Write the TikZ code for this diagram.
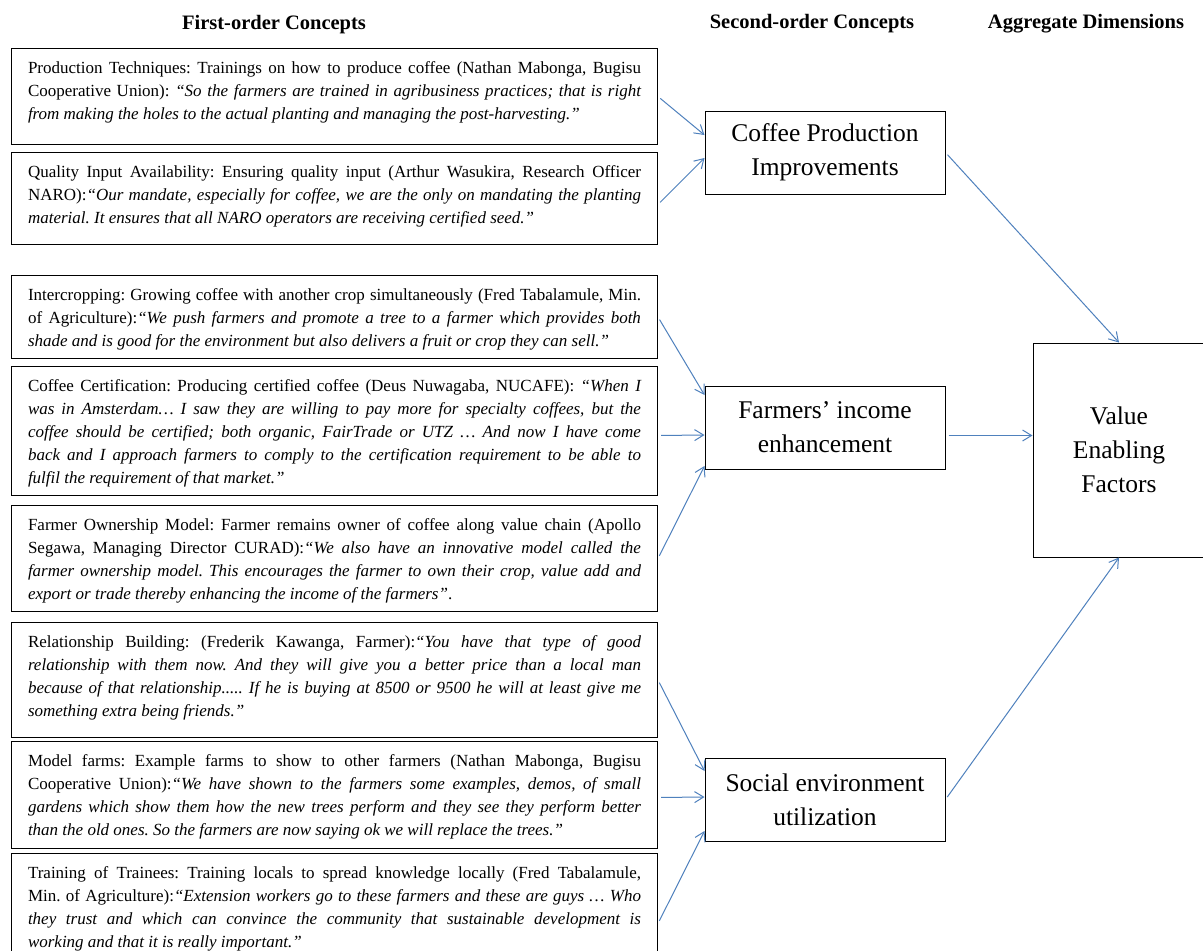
\documentclass[tikz,border=0pt]{standalone}
\usepackage{fontspec}
\setmainfont{Liberation Serif}
\usetikzlibrary{arrows.meta}
\definecolor{arrowblue}{RGB}{79,129,189}
\frenchspacing
\newcommand{\quotetext}[2]{\parbox[c][#1][t]{613pt}{\strut#2}}

\begin{document}
\begin{tikzpicture}[x=1pt, y=-1pt,
		quote/.style={draw=black, line width=1pt, anchor=north west, inner xsep=16.5pt, inner ysep=9pt, font=\fontsize{17}{23}\selectfont},
		concept/.style={draw=black, line width=1pt, minimum width=240pt, minimum height=83pt, align=center, font=\fontsize{25.5}{34}\selectfont},
		heading/.style={font=\fontsize{20.5}{24}\selectfont\bfseries},
		link/.style={draw=arrowblue, line width=1pt, shorten <=3pt, -{Straight Barb[length=9pt,width=11pt]}}]

			\useasboundingbox (0,0) rectangle (1203,951);
			\fill[white] (0,0) rectangle (1203,951);

			% Column headings
			\node[heading] (h1) at (274,25) {First-order Concepts};
			\node[heading] (h2) at (812,24) {Second-order Concepts};
			\node[heading] (h3) at (1086,24) {Aggregate Dimensions};

			% First-order concepts
			\node[quote] (b1) at (11,48) {\quotetext{78pt}{Production Techniques: Trainings on how to produce coffee (Nathan Mabonga, Bugisu\linebreak Cooperative Union): \textit{“So the farmers are trained in agribusiness practices; that is right\linebreak from making the holes to the actual planting and managing the post-harvesting.”}}};
			\node[quote] (b2) at (11,152) {\quotetext{74pt}{Quality Input Availability: Ensuring quality input (Arthur Wasukira, Research Officer\linebreak NARO):\textit{“Our mandate, especially for coffee, we are the only on mandating the planting\linebreak material. It ensures that all NARO operators are receiving certified seed.”}}};
			\node[quote] (b3) at (11,275) {\quotetext{65pt}{Intercropping: Growing coffee with another crop simultaneously (Fred Tabalamule, Min.\linebreak of Agriculture):\textit{“We push farmers and promote a tree to a farmer which provides both\linebreak shade and is good for the environment but also delivers a fruit or crop they can sell.”}}};
			\node[quote] (b4) at (11,366) {\quotetext{111pt}{Coffee Certification: Producing certified coffee (Deus Nuwagaba, NUCAFE): \textit{“When I\linebreak was in Amsterdam… I saw they are willing to pay more for specialty coffees, but the\linebreak coffee should be certified; both organic, FairTrade or UTZ … And now I have come\linebreak back and I approach farmers to comply to the certification requirement to be able to\linebreak fulfil the requirement of that market.”}}};
			\node[quote] (b5) at (11,505) {\quotetext{88pt}{Farmer Ownership Model: Farmer remains owner of coffee along value chain (Apollo\linebreak Segawa, Managing Director CURAD):\textit{“We also have an innovative model called the\linebreak farmer ownership model. This encourages the farmer to own their crop, value add and\linebreak export or trade thereby enhancing the income of the farmers”}.}};
			\node[quote] (b6) at (11,622) {\quotetext{97pt}{Relationship Building: (Frederik Kawanga, Farmer):\textit{“You have that type of good\linebreak relationship with them now. And they will give you a better price than a local man\linebreak because of that relationship..... If he is buying at 8500 or 9500 he will at least give me\linebreak something extra being friends.”}}};
			\node[quote] (b7) at (11,741) {\quotetext{89pt}{Model farms: Example farms to show to other farmers (Nathan Mabonga, Bugisu\linebreak Cooperative Union):\textit{“We have shown to the farmers some examples, demos, of small\linebreak gardens which show them how the new trees perform and they see they perform better\linebreak than the old ones. So the farmers are now saying ok we will replace the trees.”}}};
			\node[quote] (b8) at (11,853) {\quotetext{100pt}{Training of Trainees: Training locals to spread knowledge locally (Fred Tabalamule,\linebreak Min. of Agriculture):\textit{“Extension workers go to these farmers and these are guys … Who\linebreak they trust and which can convince the community that sustainable development is\linebreak working and that it is really important.”}}};

			% Second-order concepts and aggregate dimension
			\node[concept] (cpi) at (825,152.5) {Coffee Production\\Improvements};
			\node[concept] (fie) at (825,427.5) {Farmers’ income\\enhancement};
			\node[concept] (seu) at (825,799.5) {Social environment\\utilization};
			\node[concept, minimum width=172pt, minimum height=214pt] (vef) at (1119,450) {Value\\Enabling\\Factors};

			% Draw links
			\draw[link] (b1.east) -- ([yshift=17.5pt]cpi.west);
			\draw[link] ([yshift=-6pt]b2.east) -- ([yshift=-5.5pt]cpi.west);
			\draw[link] (b3.east) -- ([yshift=32.5pt]fie.west);
			\draw[link] ([yshift=-4.5pt]b4.east) -- ([yshift=-7.5pt]fie.west);
			\draw[link] (b5.east) -- ([yshift=-38.5pt]fie.west);
			\draw[link] (b6.east) -- ([yshift=28.5pt]seu.west);
			\draw[link] ([yshift=-2.5pt]b7.east) -- ([yshift=2.5pt]seu.west);
			\draw[link] ([yshift=-11pt]b8.east) -- ([yshift=-31.5pt]seu.west);

			\coordinate (fieout) at ([yshift=-8pt]fie.east);
			\draw[link] (cpi.east) -- (vef.north);
			\draw[link] (fieout) -- (fieout -| vef.west);
			\draw[link] (seu.east) -- (vef.south);

		\end{tikzpicture}
\end{document}
